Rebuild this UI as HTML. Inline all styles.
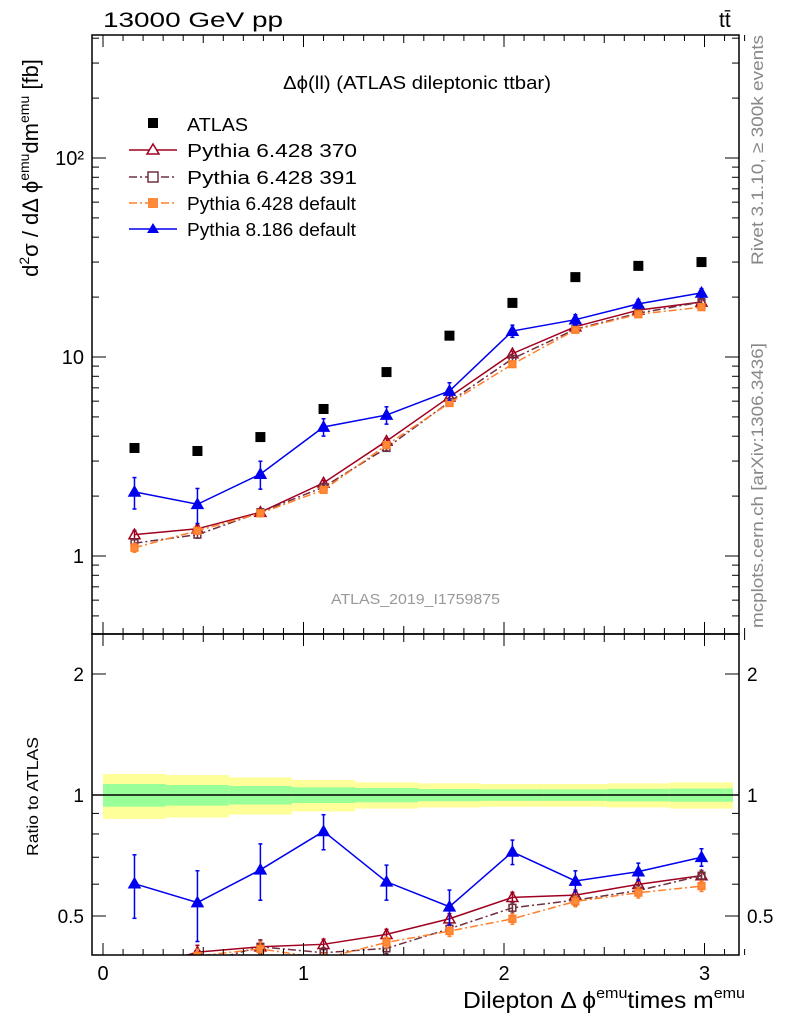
<!DOCTYPE html>
<html><head><meta charset="utf-8"><style>
body{margin:0;background:#fff;font-family:"Liberation Sans",sans-serif}
svg{display:block}
text{font-family:"Liberation Sans","DejaVu Sans",sans-serif}
</style></head><body>
<svg id="c" width="786" height="1024" xmlns="http://www.w3.org/2000/svg"></svg>
<script>
const binCenters=[0.157,0.471,0.785,1.100,1.414,1.728,2.042,2.356,2.670,2.985];
const binEdges=[0,0.314,0.628,0.942,1.257,1.571,1.885,2.199,2.513,2.827,3.142];
const atlas=[3.49,3.37,3.96,5.48,8.4,12.8,18.7,25.2,28.7,30.0];
const bandYellow=[0.128,0.121,0.106,0.090,0.075,0.069,0.065,0.065,0.069,0.075];
const bandGreen=[0.065,0.059,0.053,0.045,0.041,0.035,0.033,0.033,0.036,0.038];
const py370=[1.28,1.37,1.66,2.33,3.78,6.3,10.4,14.2,17.2,18.9];
const py391=[1.16,1.28,1.66,2.22,3.49,5.95,9.8,13.8,16.6,18.9];
const py6def=[1.10,1.34,1.64,2.15,3.61,5.87,9.2,13.7,16.4,17.8];
const py8=[2.10,1.82,2.58,4.45,5.11,6.75,13.5,15.4,18.5,21.0];
const py8err=[0.18,0.2,0.16,0.1,0.1,0.1,0.07,0.06,0.05,0.05];
const smallErr=[0.05,0.04,0.04,0.03,0.03,0.03,0.03,0.03,0.03,0.03];
const mainTicks=[1,10,100];
const mainTickLabels=["1","10","10²"];
const ratioTicks=[0.5,1,2];
const ratioTickLabels=["0.5","1","2"];
const xTicks=[0,1,2,3];

const L=92,R=739,T=35,MB=634,RB=955;
const X=v=>103+200.5*v;
const Ym=v=>556-199*Math.log10(v);
const Yr=v=>795-402*Math.log10(v);
const NS="http://www.w3.org/2000/svg";
const svg=document.getElementById('c');
function mk(tag,a,parent){const e=document.createElementNS(NS,tag);for(const k in a)e.setAttribute(k,a[k]);(parent||svg).appendChild(e);return e;}
function txt(s,a,parent){const e=mk('text',a,parent);e.textContent=s;return e;}

const defs=mk('defs',{});
const c1=mk('clipPath',{id:'cm'},defs);mk('rect',{x:L,y:T,width:R-L,height:MB-T},c1);
const c2=mk('clipPath',{id:'cr'},defs);mk('rect',{x:L,y:MB,width:R-L,height:RB-MB},c2);
const gm=mk('g',{'clip-path':'url(#cm)'});


const gr=mk('g',{'clip-path':'url(#cr)'});



for(let i=0;i<10;i++){
  const x0=X(binEdges[i]),x1=X(binEdges[i+1]);
  const y=mk('rect',{x:x0,y:Yr(1+bandYellow[i]),width:x1-x0,height:Yr(1-bandYellow[i])-Yr(1+bandYellow[i]),fill:'#ffff99'},gr);
  
  
  const g=mk('rect',{x:x0,y:Yr(1+bandGreen[i]),width:x1-x0,height:Yr(1-bandGreen[i])-Yr(1+bandGreen[i]),fill:'#99ff99'},gr);
  
  
}
mk('line',{x1:L,x2:R,y1:Yr(1),y2:Yr(1),stroke:'#000','stroke-width':1.5},gr);

atlas.forEach((v,i)=>{const r=mk('rect',{x:X(binCenters[i])-5,y:Ym(v)-5,width:10,height:10,fill:'#000'},gm);

});

const series=[
 {d:py370,err:smallErr,col:'#a00020',dash:'',m:'tri',fill:'none',name:'pythia-6428-370'},
 {d:py391,err:smallErr,col:'#703040',dash:'8,3,2,3',m:'sq',fill:'none',name:'pythia-6428-391'},
 {d:py6def,err:smallErr,col:'#ff7f2a',dash:'8,3,2,3',m:'sq',fill:'#ff8a3a',name:'pythia-6428-default'},
 {d:py8,err:py8err,col:'#0000ee',dash:'',m:'tri',fill:'#0000ee',name:'pythia-8186-default'}
];
function marker(g,m,x,y,col,fill,sz){
  if(m==='tri') return mk('polygon',{points:`${x},${y-sz} ${x-sz},${y+sz*0.75} ${x+sz},${y+sz*0.75}`,fill:fill,stroke:col,'stroke-width':1.5},g);
  return mk('rect',{x:x-sz*0.8,y:y-sz*0.8,width:sz*1.6,height:sz*1.6,fill:fill,stroke:col,'stroke-width':1.5},g);
}
series.forEach(s=>{
  [[gm,i=>Ym(s.d[i]),i=>s.d[i]*(1+s.err[i]),i=>s.d[i]*(1-s.err[i]),Ym],
   [gr,i=>Yr(s.d[i]/atlas[i]),i=>s.d[i]*(1+s.err[i])/atlas[i],i=>s.d[i]*(1-s.err[i])/atlas[i],Yr]].forEach(([g,yf,hi,lo,ym],k)=>{
    const pts=binCenters.map((c,i)=>X(c)+','+yf(i)).join(' ');
    const pl=mk('polyline',{points:pts,fill:'none',stroke:s.col,'stroke-width':1.5,'stroke-dasharray':s.dash},g);
    
    
    binCenters.forEach((c,i)=>{
      const x=X(c);
      mk('line',{x1:x,x2:x,y1:ym(hi(i)),y2:ym(lo(i)),stroke:s.col,'stroke-width':1.5},g);
      mk('line',{x1:x-2,x2:x+2,y1:ym(hi(i)),y2:ym(hi(i)),stroke:s.col,'stroke-width':1.5},g);
      mk('line',{x1:x-2,x2:x+2,y1:ym(lo(i)),y2:ym(lo(i)),stroke:s.col,'stroke-width':1.5},g);
      const mm=marker(g,s.m,x,yf(i),s.col,s.fill,s.m==='tri'?5.5:4.2);
      
      
    });
  });
});

mk('rect',{x:L,y:T,width:R-L,height:MB-T,fill:'none',stroke:'#000','stroke-width':1.5});
mk('rect',{x:L,y:MB,width:R-L,height:RB-MB,fill:'none',stroke:'#000','stroke-width':1.5});

for(let k=0;k<=32;k++){const v=k/10;const x=X(v);const major=k%10===0;const len=major?12:(k%5===0?8:6);
  [T,MB,RB].forEach(y0=>{
    if(y0!==T) mk('line',{x1:x,x2:x,y1:y0,y2:y0-len,stroke:'#000','stroke-width':1});
    if(y0!==RB) mk('line',{x1:x,x2:x,y1:y0,y2:y0+len,stroke:'#000','stroke-width':1});
  });}
xTicks.forEach(v=>{const t=txt(String(v),{x:X(v),y:980,'font-size':20,'text-anchor':'middle'});
});

for(let d=-1;d<=2;d++)for(let m=1;m<=9;m++){const v=m*Math.pow(10,d);const y=Ym(v);if(y<T||y>MB)continue;const len=m===1?14:7;
  mk('line',{x1:L,x2:L+len,y1:y,y2:y,stroke:'#000'});mk('line',{x1:R,x2:R-len,y1:y,y2:y,stroke:'#000'});}
mainTicks.forEach((v,i)=>{const t=txt(mainTickLabels[i],{x:84,y:Ym(v)+7,'font-size':20,'text-anchor':'end'});
});
[0.4,0.5,0.6,0.7,0.8,0.9,1,2].forEach(v=>{const y=Yr(v);const len=(v===0.5||v===1||v===2)?14:7;
  mk('line',{x1:L,x2:L+len,y1:y,y2:y,stroke:'#000'});mk('line',{x1:R,x2:R-len,y1:y,y2:y,stroke:'#000'});});
ratioTicks.forEach((v,i)=>{
  let t=txt(ratioTickLabels[i],{x:84,y:Yr(v)+7,'font-size':19,'text-anchor':'end'});
  
  t=txt(ratioTickLabels[i],{x:747,y:Yr(v)+7,'font-size':19});
  
});
</script>
<script>
(function(){
const svg=document.getElementById('c');
svg.insertAdjacentHTML('beforeend',`<text x="103" y="27" font-size="21" textLength="180" lengthAdjust="spacingAndGlyphs">13000 GeV pp</text>
<text x="719" y="27" font-size="21">tt̄</text>
<text x="283" y="89" font-size="18" textLength="268" lengthAdjust="spacingAndGlyphs">Δϕ(ll) (ATLAS dileptonic ttbar)</text>
<text x="331" y="604" font-size="15" fill="#999" textLength="169" lengthAdjust="spacingAndGlyphs">ATLAS_2019_I1759875</text>
<text transform="translate(38,168) rotate(-90)" font-size="22" text-anchor="middle">d<tspan font-size="14" dy="-9">2</tspan><tspan dy="9">σ / dΔ ϕ</tspan><tspan font-size="14" dy="-9">emu</tspan><tspan dy="9">dm</tspan><tspan font-size="14" dy="-9">emu</tspan><tspan dy="9"> [fb]</tspan></text>
<text transform="translate(38,856) rotate(-90)" font-size="16" textLength="119" lengthAdjust="spacingAndGlyphs">Ratio to ATLAS</text>
<text x="463" y="1008" font-size="23" textLength="282" lengthAdjust="spacingAndGlyphs">Dilepton Δ ϕ<tspan font-size="15" dy="-10">emu</tspan><tspan dy="10">times m</tspan><tspan font-size="15" dy="-10">emu</tspan></text>
<text transform="translate(763,265) rotate(-90)" font-size="17" fill="#888" textLength="230" lengthAdjust="spacingAndGlyphs">Rivet 3.1.10, ≥ 300k events</text>
<text transform="translate(763,628) rotate(-90)" font-size="17" fill="#888" textLength="285" lengthAdjust="spacingAndGlyphs">mcplots.cern.ch [arXiv:1306.3436]</text>
<g font-size="18">
<rect x="148" y="118" width="10" height="10" fill="#000"/><text x="187" y="131" textLength="61" lengthAdjust="spacingAndGlyphs">ATLAS</text>
<line x1="129" x2="177" y1="150" y2="150" stroke="#a00020" stroke-width="1.5"/><polygon points="153,144 147,154 159,154" fill="#fff" stroke="#a00020" stroke-width="1.5"/><text x="187" y="157" textLength="170" lengthAdjust="spacingAndGlyphs">Pythia 6.428 370</text>
<line x1="129" x2="177" y1="177" y2="177" stroke="#703040" stroke-width="1.5" stroke-dasharray="8,3,2,3"/><rect x="148" y="172" width="10" height="10" fill="#fff" stroke="#703040" stroke-width="1.5"/><text x="187" y="184" textLength="170" lengthAdjust="spacingAndGlyphs">Pythia 6.428 391</text>
<line x1="129" x2="177" y1="203" y2="203" stroke="#ff7f2a" stroke-width="1.5" stroke-dasharray="8,3,2,3"/><rect x="148" y="198" width="10" height="10" fill="#ff8a3a"/><text x="187" y="210" textLength="169" lengthAdjust="spacingAndGlyphs">Pythia 6.428 default</text>
<line x1="129" x2="177" y1="229" y2="229" stroke="#0000ee" stroke-width="1.5"/><polygon points="153,223 147,233 159,233" fill="#0000ee"/><text x="187" y="236" textLength="169" lengthAdjust="spacingAndGlyphs">Pythia 8.186 default</text>
</g>`);
})();
</script>
</body></html>
